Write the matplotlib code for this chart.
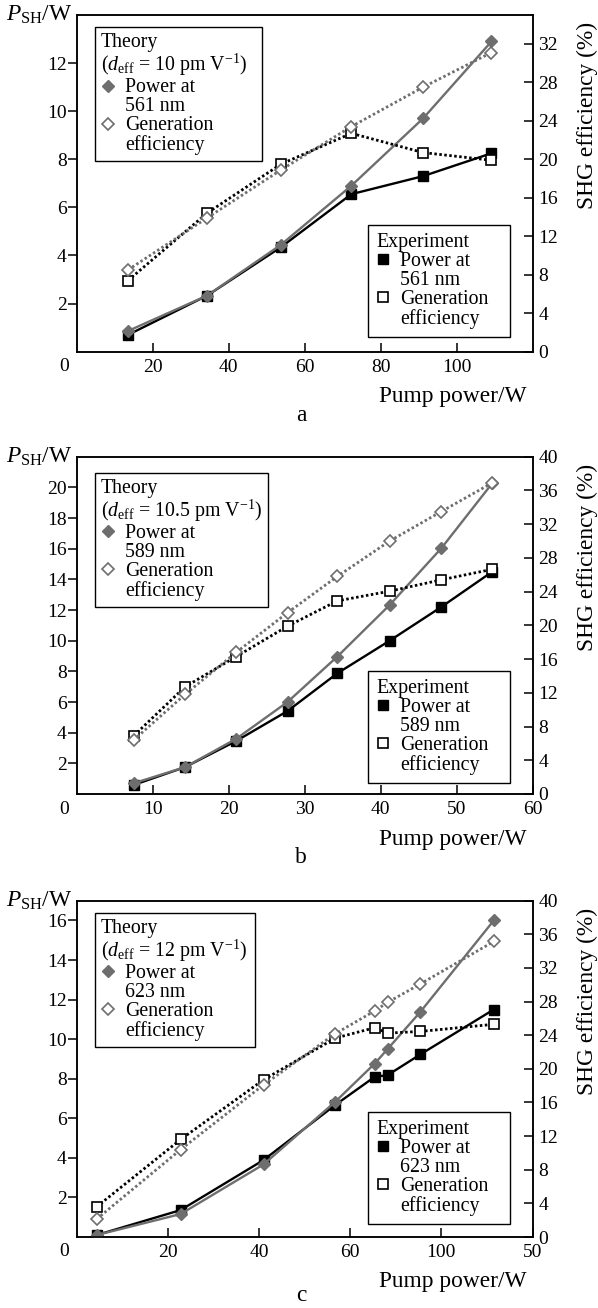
import matplotlib
matplotlib.use("Agg")
import matplotlib.pyplot as plt
from matplotlib.lines import Line2D

plt.rcParams['font.family'] = ['Liberation Serif', 'DejaVu Serif']
plt.rcParams['mathtext.fontset'] = 'custom'
plt.rcParams['mathtext.rm'] = 'Liberation Serif'
plt.rcParams['mathtext.it'] = 'Liberation Serif:italic'
plt.rcParams['mathtext.bf'] = 'Liberation Serif:bold'

# ---------------- data ----------------
# panel a : 561 nm
pump_a = [13.5, 34.3, 53.8, 72.3, 91.2, 109.2]
theory_power_a = [0.86, 2.33, 4.45, 6.9, 9.7, 12.9]
exp_power_a = [0.7, 2.33, 4.35, 6.55, 7.3, 8.25]
theory_eff_a = [8.5, 13.9, 18.9, 23.4, 27.5, 31.1]
exp_eff_a = [7.4, 14.4, 19.5, 22.7, 20.7, 19.9]

# panel b : 589 nm
pump_b = [7.5, 14.25, 21.0, 27.75, 34.3, 41.2, 48.0, 54.7]
theory_power_b = [0.7, 1.75, 3.6, 6.0, 8.96, 12.33, 16.03, 20.27]
exp_power_b = [0.59, 1.75, 3.46, 5.41, 7.87, 10.0, 12.2, 14.5]
theory_eff_b = [6.4, 11.8, 16.8, 21.5, 25.8, 30.0, 33.5, 36.9]
exp_eff_b = [6.9, 12.7, 16.3, 19.9, 22.9, 24.05, 25.4, 26.65]

# panel c : 623 nm
pump_c = [4.4, 22.8, 41.0, 56.7, 65.4, 68.2, 75.4, 91.5]
theory_power_c = [0.1, 1.16, 3.67, 6.83, 8.77, 9.5, 11.38, 16.0]
exp_power_c = [0.1, 1.36, 3.89, 6.67, 8.1, 8.18, 9.23, 11.5]
theory_eff_c = [2.14, 10.4, 18.1, 24.17, 26.9, 27.9, 30.1, 35.15]
exp_eff_c = [3.6, 11.6, 18.7, 23.65, 24.9, 24.25, 24.45, 25.3]

# axis ticks / labels
xticks_a = [20, 40, 60, 80, 100]
xticklabels_a = ['20', '40', '60', '80', '100']
xticks_b = [10, 20, 30, 40, 50, 60]
xticklabels_b = ['10', '20', '30', '40', '50', '60']
xticks_c = [20, 40, 60, 80, 100]
xticklabels_c = ['20', '40', '60', '100', '50']

yticks_left_a = [2, 4, 6, 8, 10, 12]
yticks_left_b = [2, 4, 6, 8, 10, 12, 14, 16, 18, 20]
yticks_left_c = [2, 4, 6, 8, 10, 12, 14, 16]
yticks_right_a = [0, 4, 8, 12, 16, 20, 24, 28, 32]
yticks_right_bc = [0, 4, 8, 12, 16, 20, 24, 28, 32, 36, 40]

wavelengths = ['561', '589', '623']
deffs = ['10', '10.5', '12']
letters = ['a', 'b', 'c']

# ---------------- style ----------------
W, H = 598, 1308
GRAY = '#6e6e6e'
TICK_FS = 14
LEG_FS = 14.3
LAB_FS = 16.8

fig = plt.figure(figsize=(W / 100, H / 100), dpi=100)

AX_L, AX_R = 76.7, 532.5
AX_W = AX_R - AX_L


def panel(top_px, bot_px, pump, tp, ep, te, ee, xlim, xticks, xticklabels,
          ylim_l, yticks_l, ylim_r, yticks_r, wl, deff, letter,
          theory_box, exp_box):
    rect = [AX_L / W, 1 - bot_px / H, AX_W / W, (bot_px - top_px) / H]
    ax_h = bot_px - top_px
    ax = fig.add_axes(rect)
    ax2 = ax.twinx()

    ax.plot(pump, ep, color='black', lw=1.7, marker='s', ms=7, zorder=2)
    ax.plot(pump, tp, color=GRAY, lw=1.7, marker='D', ms=6.6, zorder=3)

    ax2.plot(pump, ee, color='black', lw=2.0, ls=(0, (0.9, 0.9)),
             marker='s', ms=6.6, mfc='white', mec='black', mew=1.2, zorder=2)
    ax2.plot(pump, te, color=GRAY, lw=2.0, ls=(0, (0.9, 0.9)),
             marker='D', ms=6.4, mfc='white', mec=GRAY, mew=1.2, zorder=3)

    ax.set_xlim(*xlim)
    ax.set_ylim(*ylim_l)
    ax2.set_ylim(*ylim_r)
    ax.set_xticks(xticks)
    ax.set_xticklabels(xticklabels)
    ax.set_yticks(yticks_l)
    ax2.set_yticks(yticks_r)

    for a in (ax, ax2):
        for s in a.spines.values():
            s.set_linewidth(1.1)
    ax.tick_params(axis='x', direction='in', length=6.5, width=1.1, pad=5,
                   labelsize=TICK_FS, top=False)
    ax.tick_params(axis='y', direction='out', length=6.5, width=1.1, pad=0.8,
                   labelsize=TICK_FS, right=False)
    ax2.tick_params(axis='y', direction='in', length=6.5, width=1.1, pad=4.3,
                    labelsize=TICK_FS)

    ax.annotate('0', xy=(0, 0), xycoords='axes fraction', xytext=(-9.1, -10.8),
                textcoords='offset points', ha='center', va='center',
                fontsize=TICK_FS)

    # labels
    top_f = 1 - top_px / H
    bot_f = 1 - bot_px / H
    fig.text(72 / W, top_f, '$P_{\\mathrm{SH}}$/W', ha='right', va='center',
             fontsize=LAB_FS)
    fig.text(587 / W, top_f - 7 / H, 'SHG efficiency (%)', rotation=90,
             ha='center', va='top', fontsize=LAB_FS)
    fig.text(527 / W, bot_f - 45 / H, 'Pump power/W', ha='right', va='center',
             fontsize=LAB_FS)
    base_px = min(bot_px + 69, H - 7)
    fig.text(301 / W, 1 - base_px / H, letter, ha='center', va='baseline',
             fontsize=LAB_FS)

    # legends (boxes given in pixels: left, top, right, bottom)
    common = dict(frameon=True, fancybox=False, edgecolor='black', framealpha=1,
                  fontsize=LEG_FS, title_fontsize=LEG_FS, alignment='left',
                  handlelength=0.75, handletextpad=0.45, labelspacing=0.0,
                  borderaxespad=0, mode='expand')

    def anchor(box, upper):
        l, t, r, b = box
        x0 = (l - AX_L) / AX_W
        w = (r - l) / AX_W
        if upper:
            y1 = (bot_px - t) / ax_h
            return (x0, y1 - 0.5, w, 0.5)
        y0 = (bot_px - b) / ax_h
        return (x0, y0, w, 0.5)

    th = [Line2D([], [], ls='none', marker='D', ms=6.6, color=GRAY),
          Line2D([], [], ls='none'),
          Line2D([], [], ls='none', marker='D', ms=6.4, mfc='white', mec=GRAY,
                 mew=1.2),
          Line2D([], [], ls='none')]
    labels = ['Power at', f'{wl} nm', 'Generation', 'efficiency']
    title = 'Theory\n($d_{\\mathrm{eff}}$ = ' + deff + ' pm V$^{-1}$)'
    leg1 = ax2.legend(th, labels, title=title, loc='upper left',
                      bbox_to_anchor=anchor(theory_box, True), borderpad=0.3,
                      **common)
    leg1.get_frame().set_linewidth(1.0)
    leg1.get_title().set_linespacing(1.0)
    ax2.add_artist(leg1)

    eh = [Line2D([], [], ls='none', marker='s', ms=6.6, color='black'),
          Line2D([], [], ls='none'),
          Line2D([], [], ls='none', marker='s', ms=6.6, mfc='white',
                 mec='black', mew=1.2),
          Line2D([], [], ls='none')]
    leg2 = ax2.legend(eh, labels, title='Experiment', loc='lower left',
                      bbox_to_anchor=anchor(exp_box, False), borderpad=0.4,
                      **common)
    leg2.get_frame().set_linewidth(1.0)
    return ax, ax2


panel(15, 351.7, pump_a, theory_power_a, exp_power_a, theory_eff_a, exp_eff_a,
      (0, 120), xticks_a, xticklabels_a, (0, 14), yticks_left_a, (0, 35),
      yticks_right_a, wavelengths[0], deffs[0], letters[0],
      (95, 27.3, 262, 160), (368, 224.3, 510, 336.7))

panel(456.7, 794, pump_b, theory_power_b, exp_power_b, theory_eff_b, exp_eff_b,
      (0, 60), xticks_b, xticklabels_b, (0, 22), yticks_left_b, (0, 40),
      yticks_right_bc, wavelengths[1], deffs[1], letters[1],
      (95, 472.7, 268.3, 604.3), (368, 670, 510, 782.7))

panel(900.7, 1237, pump_c, theory_power_c, exp_power_c, theory_eff_c, exp_eff_c,
      (0, 100), xticks_c, xticklabels_c, (0, 17), yticks_left_c, (0, 40),
      yticks_right_bc, wavelengths[2], deffs[2], letters[2],
      (95, 912.7, 255.3, 1045.7), (368, 1111, 510, 1224))

fig.savefig('out.png', dpi=100)
